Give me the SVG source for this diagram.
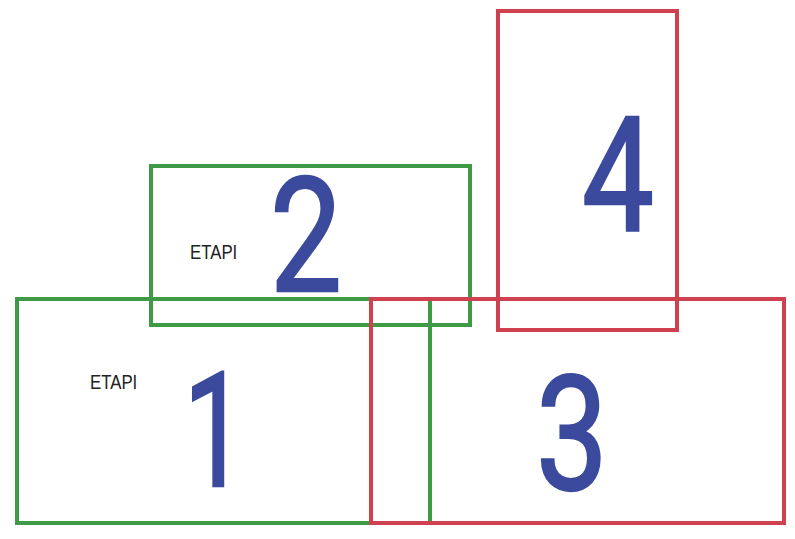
<svg xmlns="http://www.w3.org/2000/svg" width="795" height="539" viewBox="0 0 795 539">
<style>
.g{fill:none;stroke:#3f9a45;stroke-width:4}
.r{fill:none;stroke:#d0414f;stroke-width:4}
.n{font-family:Roboto,"Liberation Sans",Arial,sans-serif;font-weight:400;font-size:160px;fill:#3b4a9c;stroke:#3b4a9c;stroke-width:2.5;text-anchor:middle}
.e{font-family:"Liberation Sans",Arial,sans-serif;font-size:21px;fill:#222}
</style>
<rect width="795" height="539" fill="#fff"/>
<g id="node1">
<rect class="g" x="17" y="299" width="413" height="224"/>
<text class="e" transform="translate(90,389) scale(0.8,1)">ETAPI</text>
<text class="n" transform="translate(215,486) scale(0.7,1)">1</text>
</g>
<g id="node2">
<rect class="g" x="151" y="166" width="319" height="159"/>
<text class="e" transform="translate(190,259) scale(0.8,1)">ETAPI</text>
<text class="n" transform="translate(306,291) scale(0.8,1)">2</text>
</g>
<g id="node3">
<rect class="r" x="371" y="299" width="413" height="224"/>
<text class="n" transform="translate(572,489) scale(0.8,1)">3</text>
</g>
<g id="node4">
<rect class="r" x="498" y="11" width="179" height="319"/>
<text class="n" transform="translate(618,230) scale(0.8,1)">4</text>
</g>
<g id="connectors"></g>
</svg>
